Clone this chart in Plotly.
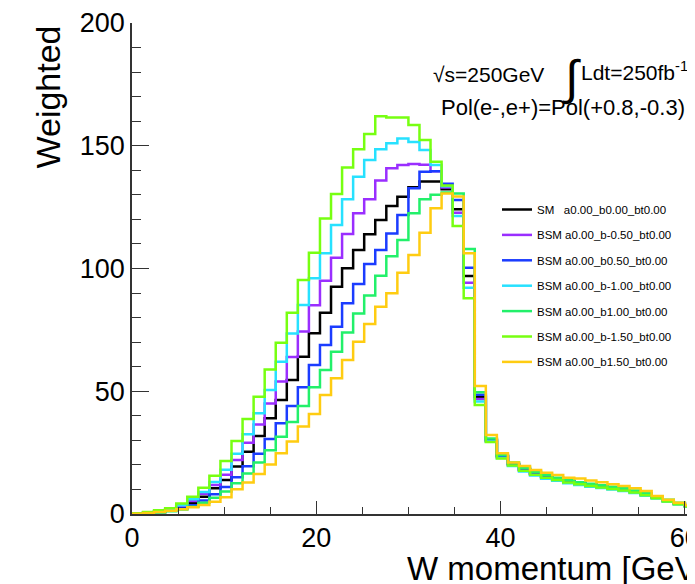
import numpy as np
import plotly.graph_objects as go

# ---------------- data (bin contents, 1.2 GeV bins starting at 0) ----------------
BIN_WIDTH = 1.2

labels = [
    "SM\u00a0\u00a0 a0.00_b0.00_bt0.00",
    "BSM a0.00_b-0.50_bt0.00",
    "BSM a0.00_b0.50_bt0.00",
    "BSM a0.00_b-1.00_bt0.00",
    "BSM a0.00_b1.00_bt0.00",
    "BSM a0.00_b-1.50_bt0.00",
    "BSM a0.00_b1.50_bt0.00",
]
colors = ["#000000", "#9a2eff", "#1b3cff", "#27e1ff", "#22f06a", "#77ff11", "#ffcc11"]

sm_b000 = [0.1, 0.4, 0.9, 1.6, 2.8, 4.5, 7.0, 10.5, 13.8, 19.3, 25.4, 31.8, 39.0, 46.4, 54.6,
           64.1, 73.6, 82.0, 92.6, 100.1, 107.5, 114.0, 119.8, 125.5, 129.2, 133.1, 135.4, 135.4,
           132.3, 124.1, 96.9, 47.8, 30.0, 23.5, 20.3, 18.0, 16.5, 15.3, 14.3, 13.3, 12.5, 11.9,
           11.3, 10.7, 10.1, 9.2, 8.1, 6.8, 5.5, 4.3, 3.3]
bsm_bm050 = [0.15, 0.5, 1.0, 1.9, 3.3, 5.3, 8.2, 11.8, 16.0, 22.0, 29.0, 36.5, 45.0, 54.0, 64.0,
             74.3, 85.0, 95.0, 104.4, 114.1, 122.5, 128.2, 135.8, 140.8, 142.2, 142.6, 142.3, 139.6,
             133.0, 122.7, 94.2, 46.8, 29.8, 23.2, 20.0, 17.8, 16.2, 15.0, 14.0, 13.0, 12.3, 11.6,
             11.0, 10.4, 9.8, 9.0, 7.8, 6.6, 5.3, 4.1, 3.2]
bsm_b050 = [0.1, 0.3, 0.7, 1.3, 2.2, 3.6, 5.5, 8.0, 11.0, 15.0, 19.5, 24.5, 30.5, 37.0, 44.0,
            51.6, 60.7, 68.8, 76.3, 85.8, 93.7, 101.8, 107.5, 114.3, 121.8, 132.7, 139.4, 139.6,
            134.5, 127.9, 100.3, 48.6, 30.4, 23.7, 20.5, 18.3, 16.6, 15.4, 14.4, 13.4, 12.6, 12.0,
            11.4, 10.8, 10.2, 9.3, 8.2, 6.9, 5.6, 4.4, 3.4]
bsm_bm100 = [0.2, 0.6, 1.2, 2.0, 3.6, 6.0, 9.0, 13.0, 18.0, 24.5, 32.5, 41.0, 50.5, 62.0, 73.5,
             85.1, 96.0, 106.2, 117.7, 128.2, 137.4, 144.2, 148.6, 151.0, 153.0, 151.5, 148.3, 142.2,
             133.5, 121.4, 92.2, 45.8, 29.5, 22.8, 19.6, 17.3, 15.7, 14.4, 13.5, 12.5, 11.8, 11.1,
             10.6, 10.0, 9.4, 8.6, 7.4, 6.3, 5.0, 3.9, 3.0]
bsm_b100 = [0.1, 0.3, 0.6, 1.1, 1.8, 3.0, 4.6, 6.6, 9.2, 12.5, 16.5, 21.0, 26.0, 31.5, 37.5,
            44.0, 51.6, 58.7, 66.1, 73.9, 81.7, 89.0, 97.0, 105.0, 111.6, 122.5, 128.2, 130.0,
            131.0, 130.6, 107.9, 49.6, 30.8, 24.0, 21.0, 18.8, 17.2, 15.9, 14.8, 13.8, 12.9, 12.3,
            11.7, 11.1, 10.5, 9.6, 8.5, 7.1, 5.8, 4.6, 3.5]
bsm_bm150 = [0.3, 0.8, 1.5, 2.3, 4.3, 7.0, 10.7, 15.6, 21.6, 29.7, 38.7, 47.8, 58.9, 69.8, 82.0,
             95.3, 106.4, 120.4, 130.3, 141.1, 148.6, 154.8, 162.0, 161.5, 161.5, 158.5, 152.3, 143.5,
             133.8, 117.3, 87.9, 44.4, 29.3, 22.6, 19.8, 17.6, 16.0, 14.8, 13.8, 12.8, 12.1, 11.4,
             10.8, 10.2, 9.6, 8.8, 7.6, 6.4, 5.1, 4.0, 3.1]
bsm_b150 = [0.1, 0.4, 0.8, 1.3, 1.9, 2.7, 3.7, 5.0, 6.8, 10.1, 12.8, 16.3, 20.2, 24.7, 29.5,
            35.6, 40.7, 48.5, 55.3, 62.7, 70.2, 77.4, 84.4, 89.9, 98.3, 105.5, 114.6, 124.5,
            130.6, 129.3, 106.2, 52.1, 32.2, 24.7, 21.0, 19.6, 17.9, 16.8, 15.9, 14.8, 14.5, 13.6,
            12.9, 12.1, 11.4, 10.5, 9.4, 7.3, 5.8, 4.6, 3.6]

series = [sm_b000, bsm_bm050, bsm_b050, bsm_bm100, bsm_b100, bsm_bm150, bsm_b150]

x_ticks = [0, 20, 40, 60]
y_ticks = [0, 50, 100, 150, 200]

FONT = "Liberation Sans, Arial, Helvetica, sans-serif"

# ---------------- figure geometry ----------------
# the page body has an 8px default margin, so the figure is drawn 8px right/down
OFF = 8
W, H = 695, 584
AX_L, AX_T, AX_B = 132, 23, 514          # wanted positions in the window
ML, MT = AX_L - OFF, AX_T - OFF
MB = H - (AX_B - OFF)
MR = 0
PW = W - ML - MR
PH = H - MT - MB
PX_PER_UNIT = 9.214
XMAX = PW / PX_PER_UNIT

def px_x(p):  # window pixel -> paper x
    return (p - AX_L) / PW

def px_y(p):  # window pixel -> paper y
    return 1 - (p - AX_T) / PH

fig = go.Figure()
for i, (vals, name, col) in enumerate(zip(series, labels, colors)):
    n = len(vals)
    edges = np.arange(n + 1) * BIN_WIDTH
    xs = np.concatenate([[0.0], edges])
    ys = np.concatenate([[0.0], vals, [vals[-1]]])
    fig.add_trace(go.Scatter(
        x=xs, y=ys, mode="lines", name=name,
        line=dict(color=col, width=2.5, shape="hv"),
        legendgroup=f"g{i}", hoverinfo="skip",
    ))

fig.update_layout(
    width=W, height=H,
    margin=dict(l=ML, r=MR, t=MT, b=MB, pad=0, autoexpand=False),
    paper_bgcolor="white", plot_bgcolor="white",
    font=dict(family=FONT, color="black"),
    showlegend=True,
    legend=dict(
        x=px_x(497), y=px_y(195), xanchor="left", yanchor="top",
        font=dict(size=11.5, family=FONT), bgcolor="rgba(0,0,0,0)",
        tracegroupgap=6.4, itemwidth=30,
    ),
)

fig.update_xaxes(
    range=[0, XMAX], tickvals=x_ticks, ticks="inside", ticklen=13, tickwidth=1.3,
    tickcolor="#333", showline=True, linecolor="#333", linewidth=1.6, automargin=False,
    showgrid=False, zeroline=False, tickfont=dict(size=27, family=FONT),
    ticklabelstandoff=-1,
    minor=dict(ticks="inside", dtick=5, ticklen=7, tickwidth=1.2, tickcolor="#333", showgrid=False),
)
fig.update_yaxes(
    range=[0, 200], tickvals=y_ticks, ticks="inside", ticklen=17, tickwidth=1.3,
    tickcolor="#333", showline=True, linecolor="#333", linewidth=1.6, automargin=False,
    showgrid=False, zeroline=False, tickfont=dict(size=27, family=FONT),
    minor=dict(ticks="inside", dtick=10, ticklen=9, tickwidth=1.2, tickcolor="#333", showgrid=False),
)

annotations = [
    dict(text="Weighted", x=px_x(47), y=px_y(24), xref="paper", yref="paper",
         xanchor="center", yanchor="top", textangle=-90, showarrow=False,
         font=dict(size=34, family=FONT)),
    dict(text="W momentum [GeV]", x=px_x(405), y=px_y(589), xref="paper", yref="paper",
         xanchor="left", yanchor="bottom", showarrow=False,
         font=dict(size=33, family=FONT)),
    dict(text="√s=250GeV", x=px_x(431), y=px_y(74), xref="paper", yref="paper",
         xanchor="left", yanchor="middle", showarrow=False,
         font=dict(size=21, family=FONT)),
    dict(text="∫", x=px_x(571), y=px_y(78), xref="paper", yref="paper",
         xanchor="center", yanchor="middle", showarrow=False,
         font=dict(size=48, family=FONT)),
    dict(text="Ldt=250fb<sup>-1</sup>", x=px_x(579), y=px_y(71), xref="paper", yref="paper",
         xanchor="left", yanchor="middle", showarrow=False,
         font=dict(size=21, family=FONT)),
    dict(text="Pol(e-,e+)=Pol(+0.8,-0.3)", x=px_x(439), y=px_y(108), xref="paper", yref="paper",
         xanchor="left", yanchor="middle", showarrow=False,
         font=dict(size=22, family=FONT)),
]
fig.update_layout(annotations=annotations)

fig.write_html("out.html")
